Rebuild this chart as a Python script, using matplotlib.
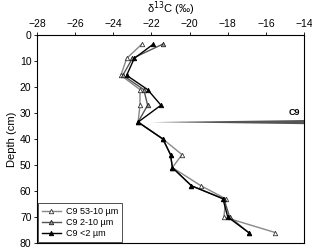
import matplotlib
matplotlib.use("Agg")
import matplotlib.pyplot as plt
import numpy as np

plt.rcParams["font.family"] = ["Liberation Sans", "DejaVu Sans"]

depth = [3.5, 9, 15.5, 21, 27, 33.5, 40, 46, 51, 58, 63, 70, 76]
d13c_53_10 = [-22.5, -23.3, -23.6, -22.6, -22.6, -22.7, -21.4, -20.4, -20.9, -19.4, -18.1, -18.2, -15.5]
d13c_2_10 = [-21.4, -23.0, -23.5, -22.4, -22.2, -22.7, -21.4, -21.0, -20.9, -19.9, -18.2, -17.9, -16.9]
d13c_lt2 = [-21.9, -22.9, -23.3, -22.2, -21.5, -22.7, -21.4, -21.0, -20.9, -19.9, -18.25, -18.0, -16.9]
labels = ["C9 53-10 µm", "C9 2-10 µm", "C9 <2 µm"]
xticks = [-28, -26, -24, -22, -20, -18, -16, -14]
yticks = [0, 10, 20, 30, 40, 50, 60, 70, 80]
marker_depth = 33.5
marker_start = -22.0

fig = plt.figure(figsize=(3.12, 2.5), dpi=100)
ax = fig.add_axes([37/312, 1-243/250, 267/312, 208/250])

ax.plot(d13c_53_10, depth, color="#888888", lw=1.0, marker="^", ms=3.2,
        mfc="white", mec="#333333", mew=0.6, label=labels[0])
ax.plot(d13c_2_10, depth, color="#555555", lw=1.0, marker="^", ms=3.2,
        mfc="#999999", mec="#222222", mew=0.6, label=labels[1])
ax.plot(d13c_lt2, depth, color="black", lw=1.0, marker="^", ms=3.2,
        mfc="black", mec="black", mew=0.6, label=labels[2])

# tapered C9 marker
xs = [marker_start, -14, -14, marker_start]
ys = [marker_depth, marker_depth - 0.8, marker_depth + 0.8, marker_depth]
ax.fill(xs, ys, color="#555555", lw=0, clip_on=False)
ax.text(-14.2, marker_depth - 2.0, "C9", ha="right", va="bottom",
        fontsize=6.5, fontweight="bold")

ax.set_xlim(-28, -14)
ax.set_ylim(80, 0)
ax.set_xticks(xticks)
ax.set_yticks(yticks)
ax.xaxis.tick_top()
ax.xaxis.set_label_position("top")
ax.tick_params(axis="both", labelsize=7.5, length=2, width=0.6, pad=2)
ax.set_xlabel("δ$^{13}$C (‰)", fontsize=8, labelpad=5)
ax.set_ylabel("Depth (cm)", fontsize=8, labelpad=2)
for s in ax.spines.values():
    s.set_linewidth(0.8)

leg = ax.legend(loc="lower left", fontsize=6.5, frameon=True, fancybox=False,
                edgecolor="black", borderaxespad=0.1, handlelength=2.2,
                labelspacing=0.25, borderpad=0.4, handletextpad=0.5)
leg.get_frame().set_linewidth(0.6)

fig.savefig("out.png", dpi=100)
